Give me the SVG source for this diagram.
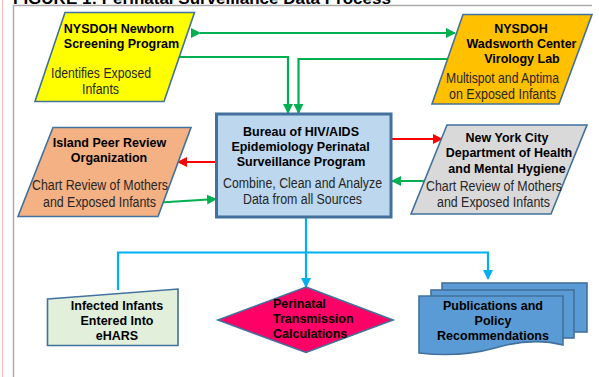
<svg xmlns="http://www.w3.org/2000/svg" width="599" height="377" viewBox="0 0 599 377">
  <defs>
    <marker id="ahGreen" markerUnits="userSpaceOnUse" markerWidth="10" markerHeight="10" viewBox="0 0 10 10" refX="9" refY="5" orient="auto">
      <path d="M0,0 L10,5 L0,10 Z" fill="#00B050"/>
    </marker>
    <marker id="ahRed" markerUnits="userSpaceOnUse" markerWidth="10" markerHeight="10" viewBox="0 0 10 10" refX="9" refY="5" orient="auto">
      <path d="M0,0 L10,5 L0,10 Z" fill="#FF0000"/>
    </marker>
    <marker id="ahCyan" markerUnits="userSpaceOnUse" markerWidth="10" markerHeight="10" viewBox="0 0 10 10" refX="9" refY="5" orient="auto">
      <path d="M0,0 L10,5 L0,10 Z" fill="#00B0F0"/>
    </marker>
  </defs>
  <style>
    .shape { stroke: #41719C; stroke-width: 1.6; stroke-linejoin: miter; }
    .title { font-family: "Liberation Sans", Arial, sans-serif; font-weight: bold; font-size: 17px; fill: #000; }
    .hd { font-family: "Liberation Sans", Arial, sans-serif; font-weight: bold; font-size: 12.5px; fill: #000; text-anchor: middle; }
    .hdl { font-family: "Liberation Sans", Arial, sans-serif; font-weight: bold; font-size: 12.5px; fill: #000; }
    .body { font-family: "Liberation Sans", Arial, sans-serif; font-size: 14px; fill: #262626; }
    .g { stroke: #00B050; stroke-width: 2.2; fill: none; }
    .r { stroke: #FF0000; stroke-width: 2.2; fill: none; }
    .c { stroke: #00B0F0; stroke-width: 2.2; fill: none; }
  </style>

  <rect x="0" y="0" width="599" height="377" fill="#FFFFFF"/>

  <!-- page frame -->
  <line x1="2.5" y1="0" x2="2.5" y2="377" stroke="#FFB7B7" stroke-width="1"/>
  <polyline points="13.5,377 13.5,5.5 592,5.5" fill="none" stroke="#ABABAB" stroke-width="1.5"/>
  <text class="title" x="13" y="4">FIGURE 1: Perinatal Surveillance Data Process</text>

  <!-- connectors -->
  <g id="connectors">
    <line class="g" x1="200" y1="33" x2="455" y2="33" marker-start="url(#ahGreen)" marker-end="url(#ahGreen)"/>
    <polyline class="g" points="162,57 288,57 288,113" marker-end="url(#ahGreen)"/>
    <polyline class="g" points="448,59 298.5,59 298.5,113" marker-end="url(#ahGreen)"/>
    <line class="g" x1="160" y1="202.5" x2="216" y2="199" marker-end="url(#ahGreen)"/>
    <line class="g" x1="425" y1="181" x2="392" y2="181" marker-end="url(#ahGreen)"/>
    <line class="r" x1="216" y1="162" x2="178" y2="162" marker-end="url(#ahRed)"/>
    <line class="r" x1="392" y1="139" x2="442" y2="139" marker-end="url(#ahRed)"/>
    <line class="c" x1="306" y1="218" x2="306" y2="287" marker-end="url(#ahCyan)"/>
    <polyline class="c" points="118,290 118,252.5 488,252.5 488,279" marker-end="url(#ahCyan)"/>
  </g>

  <!-- NYSDOH Newborn Screening Program -->
  <g id="newborn-screening">
    <polygon class="shape" points="65,12.5 194.5,12.5 164,101.5 35,101.5" fill="#FFFF00"/>
    <text class="hd" x="119" y="32.5">NYSDOH Newborn</text>
    <text class="hd" x="121.5" y="47.5">Screening Program</text>
    <text class="body" x="51" y="78" textLength="100" lengthAdjust="spacingAndGlyphs">Identifies Exposed</text>
    <text class="body" x="82" y="94" textLength="37" lengthAdjust="spacingAndGlyphs">Infants</text>
  </g>

  <!-- NYSDOH Wadsworth Center Virology Lab -->
  <g id="wadsworth-lab">
    <polygon class="shape" points="463,14.5 592,14.5 559,104 432,104" fill="#FFC000"/>
    <text class="hd" x="521" y="32.5">NYSDOH</text>
    <text class="hd" x="521.5" y="48">Wadsworth Center</text>
    <text class="hd" x="522" y="63">Virology Lab</text>
    <text class="body" x="446" y="83" textLength="113" lengthAdjust="spacingAndGlyphs">Multispot and Aptima</text>
    <text class="body" x="449" y="99" textLength="107" lengthAdjust="spacingAndGlyphs">on Exposed Infants</text>
  </g>

  <!-- Island Peer Review Organization -->
  <g id="island-peer-review">
    <polygon class="shape" points="53,127.5 191,127.5 158,216.5 18,216.5" fill="#F4B183"/>
    <text class="hd" x="109.5" y="146.5">Island Peer Review</text>
    <text class="hd" x="109" y="162">Organization</text>
    <text class="body" x="32" y="190" textLength="136" lengthAdjust="spacingAndGlyphs">Chart Review of Mothers</text>
    <text class="body" x="43" y="206.5" textLength="113" lengthAdjust="spacingAndGlyphs">and Exposed Infants</text>
  </g>

  <!-- Bureau of HIV/AIDS Epidemiology Perinatal Surveillance Program -->
  <g id="bureau-hiv-aids">
    <rect x="216.5" y="114" width="174.5" height="103" fill="#BDD7EE" stroke="#41719C" stroke-width="3"/>
    <text class="hd" x="301" y="136">Bureau of HIV/AIDS</text>
    <text class="hd" x="300.5" y="150.5">Epidemiology Perinatal</text>
    <text class="hd" x="301" y="165.5">Surveillance Program</text>
    <text class="body" x="223" y="188" textLength="159" lengthAdjust="spacingAndGlyphs">Combine, Clean and Analyze</text>
    <text class="body" x="243" y="204" textLength="119" lengthAdjust="spacingAndGlyphs">Data from all Sources</text>
  </g>

  <!-- New York City Department of Health and Mental Hygiene -->
  <g id="nyc-dohmh">
    <polygon class="shape" points="447,125 587,125 551,214 411,214" fill="#D9D9D9"/>
    <text class="hd" x="507" y="142">New York City</text>
    <text class="hd" x="509" y="157">Department of Health</text>
    <text class="hd" x="507" y="172.5">and Mental Hygiene</text>
    <text class="body" x="426" y="191" textLength="136" lengthAdjust="spacingAndGlyphs">Chart Review of Mothers</text>
    <text class="body" x="437" y="206.5" textLength="113" lengthAdjust="spacingAndGlyphs">and Exposed Infants</text>
  </g>

  <!-- Infected Infants Entered Into eHARS -->
  <g id="ehars-entry">
    <polygon class="shape" points="47.5,299 178,289 178,345.5 47.5,345.5" fill="#E2EFDA"/>
    <text class="hd" x="117" y="310">Infected Infants</text>
    <text class="hd" x="117" y="325">Entered Into</text>
    <text class="hd" x="117" y="340">eHARS</text>
  </g>

  <!-- Perinatal Transmission Calculations -->
  <g id="transmission-calculations">
    <polygon class="shape" points="306,287 393,320 306,352.5 218,320" fill="#FF0066"/>
    <text class="hdl" x="273" y="308">Perinatal</text>
    <text class="hdl" x="273" y="323">Transmission</text>
    <text class="hdl" x="273" y="338">Calculations</text>
  </g>

  <!-- Publications and Policy Recommendations (stacked documents) -->
  <g id="publications">
    <rect class="shape" x="442" y="283" width="145" height="49" fill="#5B9BD5"/>
    <rect class="shape" x="431" y="290" width="143" height="48" fill="#5B9BD5"/>
    <path class="shape" d="M419,296 L563,296 L563,345 C540,339 515,342 495,348 C470,355 445,356 419,353 Z" fill="#5B9BD5"/>
    <text class="hd" x="493" y="310">Publications and</text>
    <text class="hd" x="493" y="325">Policy</text>
    <text class="hd" x="493" y="340">Recommendations</text>
  </g>
</svg>
